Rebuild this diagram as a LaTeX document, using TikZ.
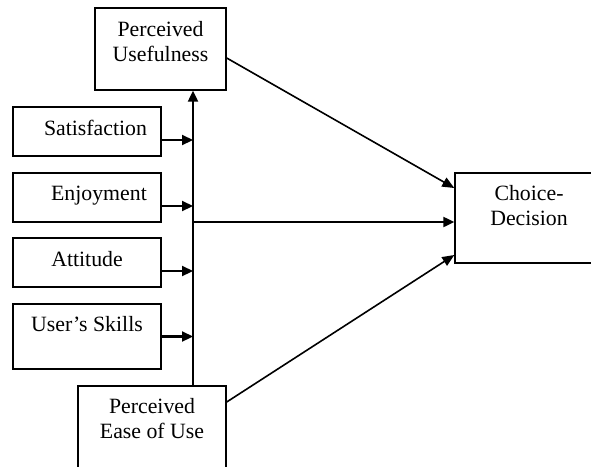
\documentclass[tikz,border=0pt]{standalone}
\usepackage{fontspec}
\setmainfont{Liberation Serif}
\usetikzlibrary{arrows.meta}

\begin{document}
\begin{tikzpicture}[x=1pt, y=-1pt,
    box/.style 2 args={draw, line width=1.4pt, minimum width=#1, minimum height=#2, inner sep=0pt},
    txt/.style={font=\fontsize{21.8}{25}\selectfont, align=center, inner sep=0pt, anchor=base},
    feed/.style={line width=2.2pt, -{Triangle[length=11pt,width=10pt]}},
    link/.style={line width=1.6pt, -{Triangle[length=12pt,width=10pt]}}]
    \useasboundingbox (0,0) rectangle (591,466);
    \clip (0,0) rectangle (591,466);

    % Draw boxes
    \node[box={131pt}{82pt}] (pu) at (160.5,49) {};
    \node[txt] (putext) at (160.5,61) {Perceived\\Usefulness};

    \node[box={148pt}{49pt}] (sat) at (87,131.5) {};
    \node[txt] (sattext) at (95.5,135) {Satisfaction};

    \node[box={148pt}{49pt}] (enj) at (87,197.5) {};
    \node[txt] (enjtext) at (99,200.7) {Enjoyment};

    \node[box={148pt}{49pt}] (att) at (87,262.5) {};
    \node[txt] (atttext) at (87,266) {Attitude};

    \node[box={148pt}{65pt}] (skills) at (87,336.5) {};
    \node[txt] (skillstext) at (87,331) {User’s Skills};

    \node[box={148pt}{100pt}] (peu) at (152,436) {};
    \node[txt] (peutext) at (152,438) {Perceived\\Ease of Use};

    \node[box={150pt}{90pt}] (choice) at (530,218) {};
    \node[txt] (choicetext) at (529,225) {Choice-\\Decision};

    % Draw the spine
    \coordinate (spine) at (193,222);
    \draw[feed] (peu.north -| spine) -- (pu.south -| spine);

    % Draw arrows into the spine
    \draw[feed] ([yshift=-8.5pt]sat.east) -- ([yshift=-8.5pt]sat.east -| spine);
    \draw[feed] ([yshift=-8.5pt]enj.east) -- ([yshift=-8.5pt]enj.east -| spine);
    \draw[feed] ([yshift=-8.5pt]att.east) -- ([yshift=-8.5pt]att.east -| spine);
    \draw[feed] (skills.east) -- (skills.east -| spine);

    % Draw arrows into the decision
    \draw[feed] (spine) -- (spine -| choice.west);
    \draw[link] ([yshift=-9pt]pu.east) -- ([yshift=30pt]choice.west);
    \draw[link] ([yshift=34pt]peu.east) -- ([yshift=-37pt]choice.west);
\end{tikzpicture}
\end{document}
